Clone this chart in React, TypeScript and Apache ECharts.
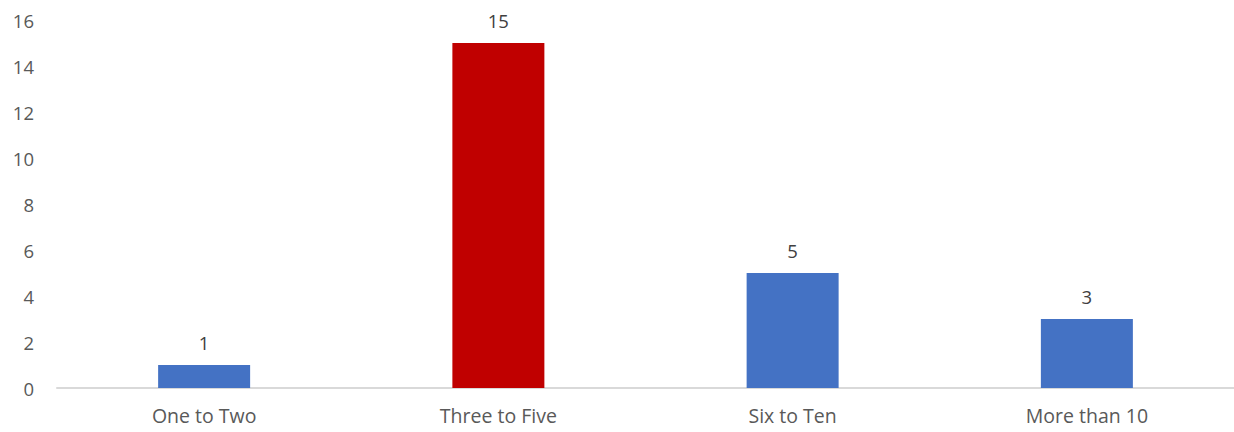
import React, { useEffect, useRef } from "react";
import * as echarts from "echarts";

const categories = ["One to Two", "Three to Five", "Six to Ten", "More than 10"];
const values = [1, 15, 5, 3];
const barColors = ["#4472C4", "#C00000", "#4472C4", "#4472C4"];
const yMin = 0;
const yMax = 16;
const yInterval = 2;

export default function App() {
  const ref = useRef<HTMLDivElement>(null);
  useEffect(() => {
    document.body.style.margin = "0";
    if (!ref.current) return;
    const chart = echarts.init(ref.current, undefined, { renderer: "svg" });
    const font = "'Open Sans', Lato, sans-serif";
    chart.setOption({
      animation: false,
      backgroundColor: "#ffffff",
      grid: { left: 57, width: 1184, top: 20, bottom: 44, containLabel: false },
      xAxis: {
        type: "category",
        data: categories,
        axisLine: { show: true, lineStyle: { color: "#d9d9d9", width: 2 } },
        axisTick: { show: false },
        axisLabel: { color: "#595959", fontSize: 19.5, fontFamily: font, margin: 17 },
      },
      yAxis: {
        type: "value",
        min: yMin,
        max: yMax,
        interval: yInterval,
        axisLine: { show: false },
        axisTick: { show: false },
        splitLine: { show: false },
        axisLabel: { color: "#595959", fontSize: 18.5, fontFamily: font, margin: 23 },
      },
      series: [
        {
          type: "bar",
          data: values.map((v, i) => ({ value: v, itemStyle: { color: barColors[i] } })),
          barWidth: 92,
          label: {
            show: true,
            position: "top",
            distance: 13,
            color: "#404040",
            fontSize: 18.5,
            fontFamily: font,
          },
        },
      ],
    });
    return () => chart.dispose();
  }, []);
  return <div ref={ref} style={{ width: 1234, height: 432 }} />;
}
